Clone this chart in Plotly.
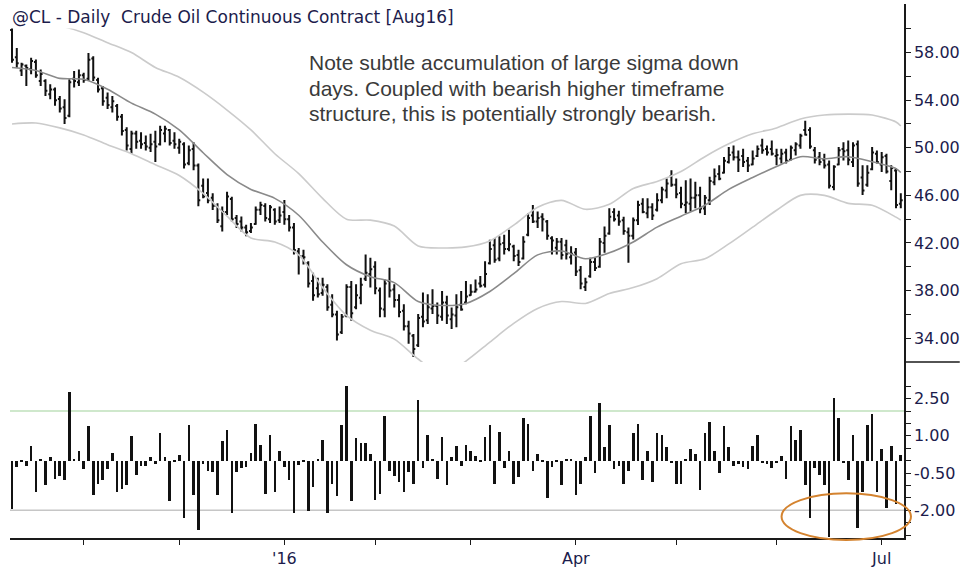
import pandas as pd
import plotly.graph_objects as go

# ---------------- data ----------------
holidays = ["2015-11-26", "2015-12-25", "2016-01-01", "2016-01-18", "2016-02-15",
            "2016-03-25", "2016-05-30", "2016-07-04"]
trade_days = [d for d in pd.bdate_range("2015-10-12", "2016-07-08")
              if d.strftime("%Y-%m-%d") not in holidays]

bar_high = [60.19, 58.39, 57.14, 57.00, 57.56, 57.42, 56.58, 55.75, 55.33, 55.06,
            54.36, 54.08, 55.75, 56.44, 56.58, 56.31, 57.97, 57.69, 55.89, 55.19,
            54.64, 54.36, 53.67, 52.83, 51.72, 51.44, 51.44, 51.31, 51.03, 51.17,
            51.44, 51.86, 51.86, 51.58, 51.31, 50.75, 50.47, 50.19, 50.47, 48.67,
            47.42, 47.42, 46.17, 45.33, 45.06, 46.31, 45.89, 44.36, 44.22, 43.53,
            43.67, 45.06, 45.47, 45.33, 45.19, 44.92, 45.06, 45.61, 44.36, 43.67,
            41.58, 41.44, 40.47, 39.50, 39.08, 39.08, 38.53, 37.69, 36.31, 36.03,
            38.53, 38.81, 38.53, 39.08, 41.03, 40.75, 40.47, 38.25, 38.94, 39.92,
            38.53, 37.69, 36.86, 35.47, 34.36, 36.03, 37.83, 37.69, 38.11, 37.00,
            37.97, 37.56, 36.58, 37.69, 37.97, 38.81, 38.53, 38.94, 39.22, 40.47,
            42.28, 42.42, 42.56, 42.69, 43.11, 41.86, 41.44, 42.56, 44.50, 45.19,
            44.64, 44.50, 43.94, 42.56, 42.42, 42.42, 42.28, 41.72, 41.58, 40.06,
            39.08, 40.75, 40.75, 42.42, 43.39, 44.92, 44.92, 44.70, 44.20, 43.30,
            44.15, 45.55, 45.75, 45.75, 45.33, 46.17, 46.72, 47.42, 48.11, 47.42,
            46.72, 47.28, 47.42, 47.14, 46.72, 46.03, 47.56, 48.25, 48.53, 49.22,
            50.06, 50.19, 49.78, 49.92, 49.22, 49.78, 50.19, 50.75, 50.19, 50.61,
            49.92, 49.92, 49.92, 50.19, 50.47, 51.17, 52.28, 51.72, 50.06, 49.64,
            49.50, 48.94, 48.53, 50.06, 50.47, 50.61, 50.47, 50.61, 48.53, 48.53,
            50.06, 49.78, 49.64, 49.50, 48.53, 48.25, 46.17]

bar_low = [57.14, 56.72, 56.03, 55.19, 56.17, 55.89, 55.19, 54.36, 54.08, 53.53,
           52.97, 52.00, 52.56, 55.06, 55.19, 55.47, 55.61, 55.61, 54.64, 53.53,
           53.25, 52.97, 52.28, 51.03, 49.78, 49.50, 49.92, 49.92, 49.78, 49.64,
           48.81, 50.19, 50.47, 50.19, 49.92, 49.50, 48.25, 48.53, 48.11, 45.08,
           45.75, 45.33, 44.78, 43.67, 42.97, 44.36, 43.81, 43.25, 42.97, 42.56,
           42.83, 43.53, 44.36, 43.81, 43.67, 43.53, 43.67, 43.53, 42.97, 41.03,
           39.36, 40.19, 38.25, 37.14, 37.42, 37.56, 36.31, 35.75, 33.81, 34.36,
           35.75, 35.47, 36.44, 36.86, 38.81, 38.25, 37.69, 35.75, 35.75, 37.42,
           36.58, 35.75, 34.64, 33.53, 32.42, 33.25, 34.92, 35.19, 36.03, 35.19,
           35.47, 35.19, 34.78, 34.92, 36.31, 36.86, 37.56, 37.83, 38.25, 38.25,
           40.19, 40.33, 40.47, 41.03, 41.31, 40.47, 40.06, 40.61, 42.56, 43.67,
           43.25, 42.97, 42.28, 41.03, 41.03, 40.61, 40.61, 40.19, 39.22, 38.11,
           37.97, 39.08, 39.64, 39.92, 41.17, 42.69, 43.81, 43.45, 42.70, 40.33,
           42.30, 43.50, 44.50, 44.08, 43.94, 44.64, 45.33, 45.75, 46.72, 45.75,
           44.92, 44.50, 44.64, 44.92, 44.50, 44.36, 45.19, 46.86, 47.28, 47.83,
           48.67, 48.94, 47.97, 48.39, 47.97, 48.53, 49.22, 49.50, 49.36, 49.36,
           48.53, 48.67, 48.67, 48.94, 49.36, 49.92, 51.03, 49.92, 48.67, 48.53,
           48.25, 46.58, 46.44, 48.53, 48.94, 48.53, 48.39, 46.72, 46.03, 46.72,
           48.11, 48.67, 47.97, 47.83, 46.44, 44.92, 44.92]

bar_open = [59.9, 57.6, 56.5, 56.9, 56.6, 57.2, 55.6, 55.6, 54.5, 54.9,
            54.1, 53.4, 52.7, 55.8, 55.5, 56.1, 55.8, 57.5, 55.7, 55.0,
            54.2, 53.4, 53.5, 52.6, 51.5, 49.9, 51.2, 50.6, 50.4, 50.0,
            50.5, 50.3, 51.2, 51.5, 50.6, 50.0, 50.3, 48.7, 49.9, 48.5,
            46.8, 46.2, 45.8, 45.1, 43.4, 44.6, 45.7, 44.1, 43.8, 43.3,
            43.0, 43.6, 44.8, 45.1, 44.0, 44.8, 43.9, 44.6, 44.0, 43.3,
            41.3, 40.9, 40.3, 38.8, 38.2, 37.8, 38.3, 36.8, 36.0, 34.5,
            35.9, 38.3, 36.6, 37.4, 39.0, 39.4, 40.0, 38.0, 36.4, 38.8,
            38.1, 37.2, 36.3, 35.0, 34.2, 33.4, 35.8, 35.5, 36.5, 36.7,
            35.8, 37.0, 35.6, 35.9, 36.8, 37.0, 37.6, 37.9, 38.6, 38.5,
            40.3, 41.8, 40.7, 42.0, 41.5, 41.7, 41.0, 40.7, 42.7, 44.3,
            43.8, 44.2, 43.8, 42.4, 41.6, 42.1, 41.8, 40.8, 41.2, 39.7,
            38.3, 39.2, 40.4, 40.0, 42.0, 42.8, 44.6, 44.3, 43.9, 42.9,
            42.6, 43.9, 45.3, 44.5, 45.0, 44.8, 45.6, 46.4, 47.6, 46.9,
            46.2, 45.2, 45.3, 45.8, 46.0, 44.9, 45.6, 47.1, 47.8, 47.9,
            48.8, 49.6, 49.2, 49.3, 48.9, 48.6, 49.3, 50.2, 49.9, 49.9,
            49.3, 49.1, 49.6, 49.0, 49.8, 50.2, 51.5, 51.5, 49.8, 49.2,
            49.0, 48.6, 46.7, 48.6, 49.9, 49.8, 48.8, 50.3, 47.5, 46.9,
            48.2, 49.5, 48.6, 49.3, 47.2, 48.1, 45.3]

bar_close = [57.4, 57.1, 57.0, 56.7, 57.3, 56.1, 56.2, 54.8, 54.9, 54.0,
             53.3, 52.5, 55.5, 55.6, 56.1, 55.7, 57.4, 55.9, 54.9, 53.9,
             53.6, 53.9, 52.6, 51.4, 50.2, 51.2, 50.5, 50.3, 50.1, 50.3,
             50.1, 51.5, 51.6, 50.4, 50.3, 50.5, 48.6, 49.8, 48.5, 45.6,
             45.9, 45.6, 45.1, 43.9, 44.6, 45.9, 44.0, 43.6, 43.3, 42.9,
             43.3, 44.8, 45.2, 44.1, 45.0, 43.8, 44.3, 44.0, 43.3, 41.4,
             40.9, 40.8, 38.6, 37.6, 37.7, 38.5, 36.6, 36.0, 34.3, 35.8,
             38.3, 36.1, 37.6, 38.5, 39.5, 39.8, 38.2, 36.5, 38.6, 38.0,
             37.2, 36.2, 35.0, 34.4, 33.1, 35.7, 35.4, 36.6, 36.7, 35.9,
             37.0, 35.9, 36.0, 36.6, 36.4, 37.5, 37.9, 38.1, 38.4, 39.4,
             41.5, 40.6, 41.9, 41.5, 41.9, 40.9, 40.4, 42.1, 44.1, 43.8,
             44.1, 44.0, 42.6, 42.2, 42.1, 41.0, 41.1, 41.1, 39.6, 38.6,
             38.7, 40.4, 39.9, 42.1, 42.6, 44.2, 44.0, 43.8, 43.0, 42.6,
             43.9, 45.2, 44.6, 45.0, 44.3, 45.6, 46.5, 47.0, 46.9, 46.1,
             45.3, 45.4, 45.8, 46.0, 44.9, 45.8, 47.2, 47.6, 47.4, 48.9,
             49.4, 49.2, 49.0, 48.8, 48.5, 49.1, 49.9, 49.8, 49.6, 49.5,
             49.4, 49.5, 48.9, 50.0, 50.3, 51.0, 51.1, 50.1, 49.0, 48.8,
             48.5, 46.8, 48.4, 49.8, 49.7, 49.0, 50.2, 47.0, 46.4, 47.9,
             49.6, 48.8, 49.2, 48.0, 48.3, 45.2, 45.6]

sigma = [-1.93, -0.26, -0.06, -0.20, 0.61, -1.26, 0.07, -0.99, 0.14, -0.73,
         -0.63, -0.79, 2.77, 0.07, 0.41, -0.35, 1.41, -1.37, -0.93, -0.79,
         -0.33, 0.31, -1.26, -1.13, -0.99, 0.98, -0.59, -0.22, -0.22, 0.14,
         -0.15, 1.10, 0.14, -1.63, -0.06, 0.21, -2.33, 1.43, -1.37, -2.79,
         -0.13, -0.42, -0.46, -1.37, 0.78, 1.23, -2.13, -0.46, -0.29, -0.26,
         0.31, 1.47, 0.65, -1.33, 1.05, -1.26, 0.41, -0.26, -0.79, -2.13,
         -0.19, -0.06, -2.02, -1.06, 0.07, 0.85, -2.13, -0.93, -1.43, 1.43,
         3.03, -1.63, 0.91, 0.71, 0.71, 0.25, -1.59, -1.33, 1.81, -0.43,
         -0.62, -0.86, -1.26, -0.46, -0.93, 2.45, -0.29, 1.03, 0.07, -0.75,
         0.97, -0.99, 0.14, 0.58, -0.22, 0.65, 0.41, 0.18, -0.05, 0.97,
         1.43, -0.93, 1.17, -0.29, 0.41, -0.93, -0.66, 1.74, 1.47, -0.42,
         0.25, -0.05, -1.49, -0.26, -0.03, -0.99, 0.03, 0.03, -1.37, -0.93,
         0.14, 1.81, -0.49, 2.31, 0.54, 1.43, -0.35, -0.22, -0.93, -0.42,
         1.11, 1.47, -0.79, 0.41, -0.86, 1.10, 1.03, 0.54, -0.09, -0.93,
         -0.93, 0.07, 0.47, 0.25, -1.17, 1.10, 1.57, 0.41, -0.49, 1.41,
         0.54, -0.22, -0.15, -0.26, -0.33, 0.58, 1.03, -0.09, -0.15, -0.29,
         -0.09, 0.18, -0.73, 1.41, 0.85, 1.23, -0.99, -2.33, -0.29, -0.59,
         -0.99, -3.06, 2.54, 1.74, -0.09, -0.79, 1.05, -2.73, -1.26, 1.43,
         1.87, -1.26, 0.47, -1.89, 0.58, -1.75, 0.21]

# channel lines, read every 5th session (plus the last one)
channel_mid = [56.75, 56.50, 55.83, 55.75, 54.92, 53.75, 52.83, 51.50, 49.58, 47.75,
               46.50, 45.75, 44.33, 42.08, 40.17, 39.17, 38.67, 37.08, 36.75, 36.92,
               37.92, 39.42, 41.00, 41.33, 40.67, 41.17, 42.08, 43.33, 44.25, 45.17,
               46.50, 47.50, 48.42, 49.25, 49.08, 49.25, 48.83, 48.25, 47.92]
channel_upper = [61.0, 60.58, 60.25, 59.67, 58.83, 58.0, 56.75, 55.92, 54.67, 53.17,
                 51.5, 49.5, 47.83, 45.75, 44.0, 43.92, 43.42, 41.75, 41.58, 41.67,
                 42.17, 43.5, 45.0, 45.58, 44.83, 45.25, 46.58, 47.17, 48.0, 49.25,
                 50.33, 51.17, 51.67, 52.42, 52.75, 52.83, 52.75, 52.17, 51.83]
channel_lower = [52.0, 52.08, 51.67, 51.08, 50.25, 49.5, 48.58, 47.67, 46.17, 44.25,
                 42.42, 42.08, 41.0, 38.25, 35.92, 34.67, 33.92, 32.25, 30.92, 32.08,
                 33.67, 35.25, 36.5, 37.08, 36.92, 37.75, 38.25, 39.0, 40.25, 40.67,
                 41.92, 43.33, 44.75, 46.0, 46.0, 45.33, 45.17, 44.17, 43.92]

price_tick_labels = ["34.00", "38.00", "42.00", "46.00", "50.00", "54.00", "58.00"]
sigma_tick_labels = ["-2.00", "-0.50", "1.00", "2.50"]
month_tick_labels = {1: "'16", 4: "Apr", 7: "Jul"}
sigma_upper_level = 2.0
sigma_lower_level = -2.0

title_text = "@CL - Daily\u00a0\u00a0Crude Oil Continuous Contract [Aug16]"
note_lines = ["Note subtle accumulation of large sigma down",
              "days. Coupled with bearish higher timeframe",
              "structure, this is potentially strongly bearish."]

# ---------------- build ----------------
n = len(trade_days)
idx = list(range(n))
chan_idx = list(range(0, n, 5)) + [n - 1]

month_ticks, month_text = [], []
for i in range(1, n):
    if trade_days[i].month != trade_days[i - 1].month:
        month_ticks.append(i)
        month_text.append(month_tick_labels.get(trade_days[i].month, ""))

price_major = [float(s) for s in price_tick_labels]
price_vals, price_text = [], []
for k, v in enumerate(price_major):
    price_vals.append(v); price_text.append(price_tick_labels[k])
    price_vals.append(v + 2); price_text.append("")

sig_major = [float(s) for s in sigma_tick_labels]
sig_vals, sig_text = [], []
for k in range(-6, 7):
    v = k * 0.5
    sig_vals.append(v)
    sig_text.append(sigma_tick_labels[sig_major.index(v)] if v in sig_major else "")

W, H = 964, 572
ML, MR, MT, MB = 10, 56, 4, 31
pw, ph = W - ML - MR, H - MT - MB
split = (H - MB - 364) / ph

def px_x(x):
    return (x - ML) / pw

def px_y(y):
    return (H - MB - y) / ph

axis_font = dict(family="DejaVu Sans", size=16, color="#1c1c4c")

fig = go.Figure()
fig.add_trace(go.Scatter(x=chan_idx, y=channel_upper, mode="lines",
                         line=dict(color="#cbcbcb", width=1.6, shape="spline", smoothing=0.8),
                         hoverinfo="skip", showlegend=False))
fig.add_trace(go.Scatter(x=chan_idx, y=channel_lower, mode="lines",
                         line=dict(color="#cbcbcb", width=1.6, shape="spline", smoothing=0.8),
                         hoverinfo="skip", showlegend=False))
fig.add_trace(go.Scatter(x=chan_idx, y=channel_mid, mode="lines",
                         line=dict(color="#8a8a8a", width=1.6, shape="spline", smoothing=0.8),
                         hoverinfo="skip", showlegend=False))
fig.add_trace(go.Ohlc(x=idx, open=bar_open, high=bar_high, low=bar_low, close=bar_close,
                      increasing=dict(line=dict(color="#111111", width=2)),
                      decreasing=dict(line=dict(color="#111111", width=2)),
                      tickwidth=0.4, showlegend=False, hoverinfo="skip"))
fig.add_trace(go.Bar(x=idx, y=sigma, yaxis="y2", marker=dict(color="#111111", line=dict(width=0)),
                     width=0.55, showlegend=False, hoverinfo="skip"))

note_annotations = [
    dict(text=line, xref="paper", yref="paper", x=px_x(308), y=px_y(63 + 25.5 * k),
         xanchor="left", yanchor="middle", align="left", showarrow=False,
         font=dict(family="Liberation Sans", size=21, color="#3a3a3a"))
    for k, line in enumerate(note_lines)
]

fig.update_layout(
    width=W, height=H,
    margin=dict(l=ML, r=MR, t=MT, b=MB, pad=0),
    paper_bgcolor="white", plot_bgcolor="white",
    showlegend=False, bargap=0,
    xaxis=dict(domain=[0, 1], range=[-0.42, 186.67], anchor="y2",
               showline=True, linecolor="#1a1a1a", linewidth=1.5, mirror=False,
               ticks="outside", ticklen=5, tickwidth=1.2, tickcolor="#1a1a1a",
               tickmode="array", tickvals=month_ticks, ticktext=month_text,
               tickfont=axis_font, showgrid=False, zeroline=False,
               rangeslider=dict(visible=False)),
    yaxis=dict(domain=[split, 1], range=[32.0, 62.08], side="right", anchor="x",
               showline=True, linecolor="#1a1a1a", linewidth=1.5,
               ticks="outside", ticklen=5, tickwidth=1.2, tickcolor="#1a1a1a",
               tickmode="array", tickvals=price_vals, ticktext=price_text,
               tickfont=axis_font, showgrid=False, zeroline=False),
    yaxis2=dict(domain=[0, split], range=[-3.12, 3.98], side="right", anchor="x",
                showline=True, linecolor="#1a1a1a", linewidth=1.5,
                ticks="outside", ticklen=5, tickwidth=1.2, tickcolor="#1a1a1a",
                tickmode="array", tickvals=sig_vals, ticktext=sig_text,
                tickfont=axis_font, showgrid=False, zeroline=False),
    shapes=[
        dict(type="line", xref="paper", yref="y2", x0=0, x1=1,
             y0=sigma_upper_level, y1=sigma_upper_level,
             line=dict(color="#bfe0bb", width=1.5), layer="below"),
        dict(type="line", xref="paper", yref="y2", x0=0, x1=1,
             y0=sigma_lower_level, y1=sigma_lower_level,
             line=dict(color="#c6c6c6", width=1.5), layer="below"),
        dict(type="line", xref="paper", yref="paper", x0=1, x1=(W - ML) / pw,
             y0=split, y1=split, line=dict(color="#1a1a1a", width=1.5)),
        dict(type="circle", xref="paper", yref="paper",
             x0=px_x(785), x1=px_x(915), y0=px_y(543), y1=px_y(496),
             line=dict(color="#d4832f", width=2)),
    ],
    annotations=[
        dict(text=title_text, xref="paper", yref="paper", x=px_x(10), y=px_y(17),
             xanchor="left", yanchor="middle", showarrow=False, bgcolor="white",
             font=dict(family="DejaVu Sans", size=17, color="#1c1c4c")),
    ] + note_annotations,
)

fig.write_html("out.html", config={"displayModeBar": False},
               post_script="document.body.style.margin='0';document.body.style.overflow='hidden';")
